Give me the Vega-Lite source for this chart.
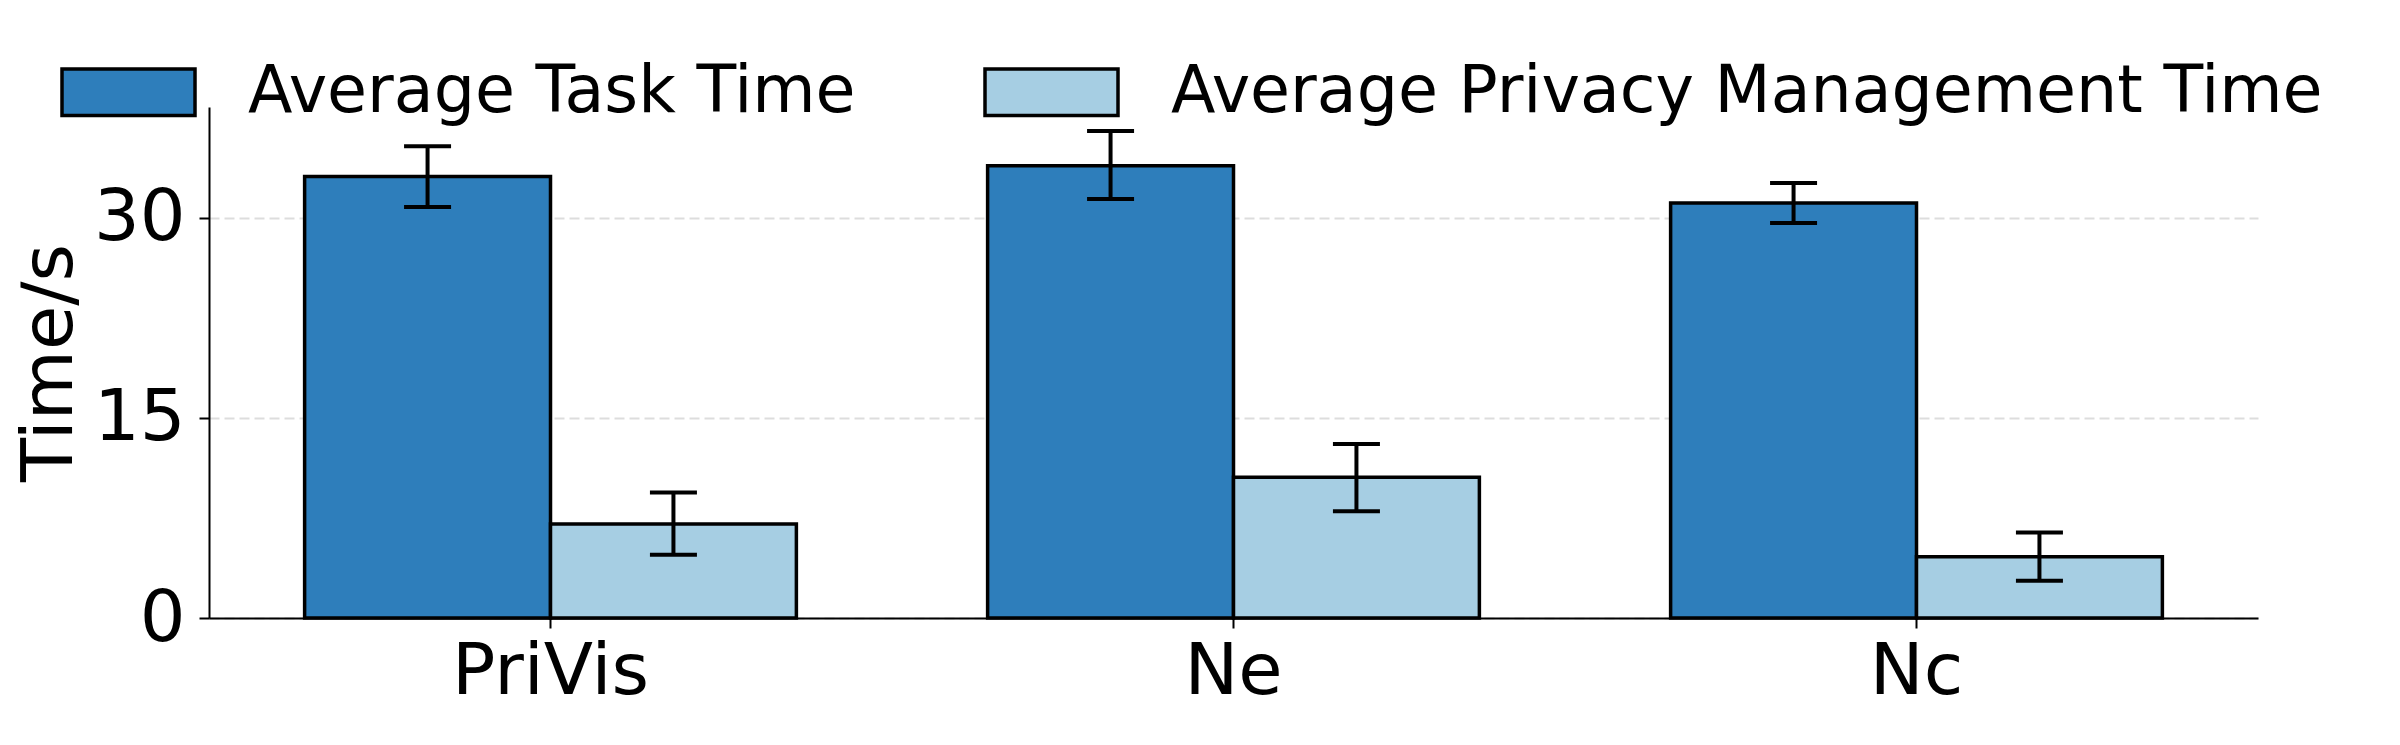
{
  "$schema": "https://vega.github.io/schema/vega-lite/v6.json",
  "description": "Grouped bars with error bars: average task time vs privacy management time",
  "width": 2049,
  "height": 511,
  "autosize": {"type": "none"},
  "padding": {"left": 209, "top": 107, "right": 142, "bottom": 127},
  "background": "white",
  "data": {
    "values": [
      {"group": "PriVis", "series": "Average Task Time", "mean": 33.1, "lo": 30.8, "hi": 35.35},
      {"group": "PriVis", "series": "Average Privacy Management Time", "mean": 7.05, "lo": 4.75, "hi": 9.4},
      {"group": "Ne", "series": "Average Task Time", "mean": 33.9, "lo": 31.4, "hi": 36.5},
      {"group": "Ne", "series": "Average Privacy Management Time", "mean": 10.55, "lo": 8.0, "hi": 13.05},
      {"group": "Nc", "series": "Average Task Time", "mean": 31.1, "lo": 29.6, "hi": 32.6},
      {"group": "Nc", "series": "Average Privacy Management Time", "mean": 4.6, "lo": 2.8, "hi": 6.4}
    ]
  },
  "encoding": {
    "x": {
      "field": "group",
      "type": "nominal",
      "sort": ["PriVis", "Ne", "Nc"],
      "scale": {"paddingInner": 0.28, "paddingOuter": 0.14},
      "axis": {"title": null, "labelAngle": 0, "labelPadding": 8, "labelLimit": 0, "grid": false}
    },
    "xOffset": {
      "field": "series",
      "type": "nominal",
      "sort": ["Average Task Time", "Average Privacy Management Time"],
      "scale": {"paddingInner": 0, "paddingOuter": 0}
    }
  },
  "layer": [
    {
      "mark": {"type": "bar", "stroke": "black", "strokeWidth": 3.5, "opacity": 1},
      "encoding": {
        "y": {
          "field": "mean",
          "type": "quantitative",
          "title": "Time/s",
          "scale": {"domain": [0, 38.3], "nice": false},
          "axis": {
            "values": [0, 15, 30],
            "grid": true,
            "gridDash": [10, 5],
            "gridColor": "#dddddd",
            "gridWidth": 2,
            "labelPadding": 14,
            "titlePadding": 7
          }
        },
        "fill": {
          "field": "series",
          "type": "nominal",
          "sort": ["Average Task Time", "Average Privacy Management Time"],
          "scale": {
            "domain": ["Average Task Time", "Average Privacy Management Time"],
            "range": ["#2e7ebb", "#a6cee3"]
          },
          "legend": {
            "title": null,
            "orient": "none",
            "direction": "horizontal",
            "legendX": -149,
            "legendY": -83.5,
            "padding": 0,
            "symbolType": "M-1,-0.35H1V0.35H-1Z",
            "symbolSize": 17689,
            "symbolStrokeColor": "black",
            "symbolStrokeWidth": 3.5,
            "symbolOpacity": 1,
            "labelFontSize": 65,
            "labelFont": "DejaVu Sans",
            "labelColor": "black",
            "labelOffset": 51,
            "labelLimit": 0,
            "columnPadding": 122
          }
        }
      }
    },
    {
      "mark": {"type": "rule", "color": "black", "strokeWidth": 4},
      "encoding": {
        "y": {"field": "lo", "type": "quantitative"},
        "y2": {"field": "hi"}
      }
    },
    {
      "mark": {"type": "tick", "color": "black", "thickness": 4, "size": 47, "opacity": 1},
      "encoding": {
        "y": {"field": "lo", "type": "quantitative"}
      }
    },
    {
      "mark": {"type": "tick", "color": "black", "thickness": 4, "size": 47, "opacity": 1},
      "encoding": {
        "y": {"field": "hi", "type": "quantitative"}
      }
    }
  ],
  "config": {
    "font": "DejaVu Sans",
    "view": {"stroke": null},
    "axis": {
      "labelFont": "DejaVu Sans",
      "titleFont": "DejaVu Sans",
      "labelFontSize": 72,
      "titleFontSize": 72,
      "titleFontWeight": "normal",
      "labelColor": "black",
      "titleColor": "black",
      "domainColor": "black",
      "domainWidth": 2,
      "tickColor": "black",
      "tickWidth": 2,
      "tickSize": 10
    }
  }
}
